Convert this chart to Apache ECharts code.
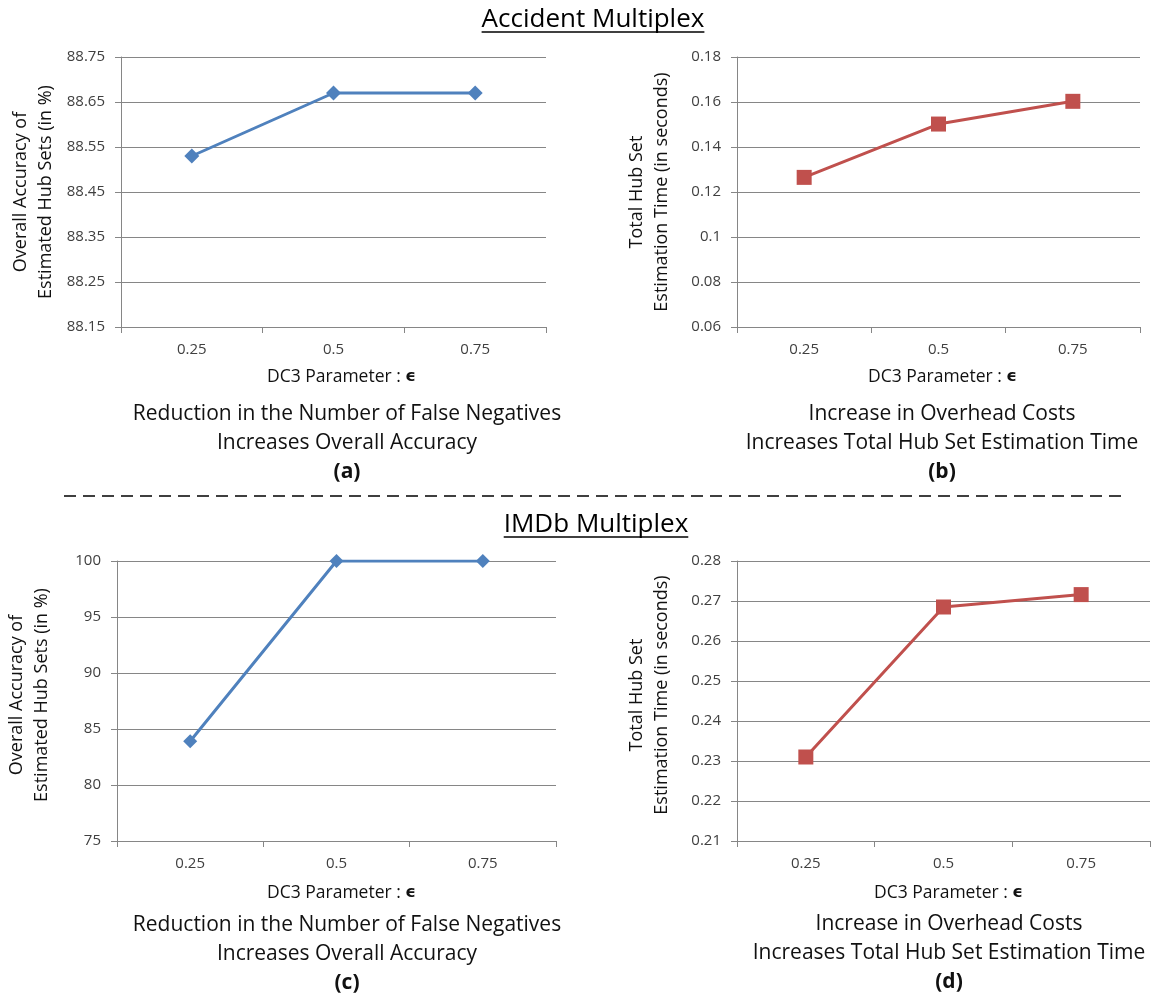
<!DOCTYPE html>
<html>
<head>
<meta charset="utf-8">
<script src="https://cdn.jsdelivr.net/npm/echarts@6/dist/echarts.min.js"></script>
<style>
  html, body { margin: 0; padding: 0; background: #ffffff; }
  #chart { width: 1151px; height: 998px; }
</style>
</head>
<body>
<div id="chart"></div>
<script>
// DC3 parameter values on the x axis
const categories = ['0.25', '0.5', '0.75'];

// Accident multiplex
const accidentAccuracy = [88.53, 88.67, 88.67];
const accidentTime = [0.1265, 0.1502, 0.1603];

// IMDb multiplex
const imdbAccuracy = [83.9, 100, 100];
const imdbTime = [0.231, 0.2685, 0.2716];

// value-axis ranges: [min, max, step]
const accidentAccuracyAxis = [88.15, 88.75, 0.1];
const accidentTimeAxis = [0.06, 0.18, 0.02];
const imdbAccuracyAxis = [75, 100, 5];
const imdbTimeAxis = [0.21, 0.28, 0.01];

// texts
const sectionTitles = ['Accident Multiplex', 'IMDb Multiplex'];
const accuracyAxisName = 'Overall Accuracy of\nEstimated Hub Sets (in %)';
const timeAxisName = 'Total Hub Set\nEstimation Time (in seconds)';
const paramAxisName = 'DC3 Parameter : {e|\u03F5}';
const accuracyCaption = ['Reduction in the Number of False Negatives', 'Increases Overall Accuracy'];
const timeCaption = ['Increase in Overhead Costs', 'Increases Total Hub Set Estimation Time'];
const panelTags = ['(a)', '(b)', '(c)', '(d)'];

const FONT = '"Open Sans", "Noto Sans", Lato, sans-serif';
const BLUE = '#4F81BD';
const RED = '#C0504D';
const GRID = '#868686';
const LABEL = '#404040';

const chart = echarts.init(document.getElementById('chart'), null, { renderer: 'canvas' });

const grids = [
  { left: 121, top: 57, width: 425, height: 270 },
  { left: 737, top: 57, width: 403, height: 270 },
  { left: 117, top: 561, width: 439, height: 280 },
  { left: 737, top: 561, width: 413, height: 280 }
].map(g => Object.assign({ outerBoundsMode: 'none', containLabel: false, show: false }, g));

function xAxis(idx, gap, shift) {
  return {
    type: 'category',
    gridIndex: idx,
    data: categories,
    boundaryGap: true,
    axisLine: { show: true, lineStyle: { color: GRID, width: 1 } },
    axisTick: { show: true, length: 6, lineStyle: { color: GRID } },
    axisLabel: { margin: 15, color: LABEL, fontFamily: FONT, fontSize: 15 },
    splitLine: { show: false },
    name: paramAxisName,
    nameLocation: 'middle',
    nameGap: gap,
    nameTextStyle: {
      fontFamily: FONT, fontSize: 17.5, color: '#111', lineHeight: 20,
      padding: [0, 0, 0, shift * 2],
      rich: { e: { fontFamily: '"DejaVu Sans", sans-serif', fontWeight: 'bold', fontSize: 16.5, color: '#111' } }
    }
  };
}

// lift: moves the rotated axis name up along the axis by that many pixels
function yAxis(idx, range, name, lift) {
  return {
    type: 'value',
    gridIndex: idx,
    min: range[0],
    max: range[1],
    interval: range[2],
    axisLine: { show: true, lineStyle: { color: GRID, width: 1 } },
    axisTick: { show: true, length: 6, lineStyle: { color: GRID } },
    axisLabel: { margin: 16, color: LABEL, fontFamily: FONT, fontSize: 15 },
    splitLine: { show: true, lineStyle: { color: GRID, width: 1 } },
    name: name,
    nameLocation: 'middle',
    nameRotate: 90,
    nameGap: 63,
    nameTextStyle: {
      fontFamily: FONT, fontSize: 18, lineHeight: 24.5, color: '#111', align: 'center',
      padding: [0, 0, 0, lift * 2]
    }
  };
}

function lineSeries(idx, data, color, symbol, size) {
  return {
    type: 'line',
    xAxisIndex: idx,
    yAxisIndex: idx,
    data: data,
    symbol: symbol,
    symbolSize: size,
    showAllSymbol: true,
    lineStyle: { color: color, width: 3 },
    itemStyle: { color: color },
    emphasis: { disabled: true },
    animation: false
  };
}

// width of a string in a given font, used to size the title underlines
const measureCtx = document.createElement('canvas').getContext('2d');
function textWidth(str, font) {
  measureCtx.font = font;
  return measureCtx.measureText(str).width;
}

function titleWithUnderline(str, cx, cy) {
  const fontSize = 26;
  const w = textWidth(str, fontSize + 'px ' + FONT);
  return [
    {
      type: 'text', x: cx, y: cy,
      style: { text: str, fontFamily: FONT, fontSize: fontSize, fill: '#000', align: 'center', verticalAlign: 'middle' }
    },
    {
      type: 'line',
      shape: { x1: cx - w / 2, y1: cy + 12, x2: cx + w / 2, y2: cy + 12 },
      style: { stroke: '#000', lineWidth: 1.5 }
    }
  ];
}

function caption(lines, tag, cx, y1, y2, y3) {
  const base = { fontFamily: FONT, fontSize: 21, fill: '#111', align: 'center', verticalAlign: 'middle' };
  return [
    { type: 'text', x: cx, y: y1, style: Object.assign({ text: lines[0] }, base) },
    { type: 'text', x: cx, y: y2, style: Object.assign({ text: lines[1] }, base) },
    { type: 'text', x: cx, y: y3, style: Object.assign({ text: tag, fontWeight: 'bold' }, base) }
  ];
}

const graphics = [].concat(
  titleWithUnderline(sectionTitles[0], 593, 20),
  titleWithUnderline(sectionTitles[1], 596, 525),
  caption(accuracyCaption, panelTags[0], 347, 414, 443, 472),
  caption(timeCaption, panelTags[1], 942, 414, 443, 472),
  caption(accuracyCaption, panelTags[2], 347, 925, 954, 983),
  caption(timeCaption, panelTags[3], 949, 924, 953, 982),
  [{
    type: 'line',
    shape: { x1: 64, y1: 496, x2: 1125, y2: 496 },
    style: { stroke: '#000', lineWidth: 1.5, lineDash: [12, 7] }
  }]
);

const option = {
  animation: false,
  backgroundColor: '#ffffff',
  textStyle: { fontFamily: FONT },
  grid: grids,
  xAxis: [
    xAxis(0, 40, 8),
    xAxis(1, 40, 4),
    xAxis(2, 42, 5),
    xAxis(3, 42, 5)
  ],
  yAxis: [
    yAxis(0, accidentAccuracyAxis, accuracyAxisName, 0),
    yAxis(1, accidentTimeAxis, timeAxisName, 0),
    yAxis(2, imdbAccuracyAxis, accuracyAxisName, 6),
    yAxis(3, imdbTimeAxis, timeAxisName, 6)
  ],
  series: [
    lineSeries(0, accidentAccuracy, BLUE, 'diamond', 15),
    lineSeries(1, accidentTime, RED, 'rect', 15),
    lineSeries(2, imdbAccuracy, BLUE, 'diamond', 14),
    lineSeries(3, imdbTime, RED, 'rect', 15)
  ],
  graphic: { elements: graphics }
};

chart.setOption(option);
</script>
</body>
</html>
